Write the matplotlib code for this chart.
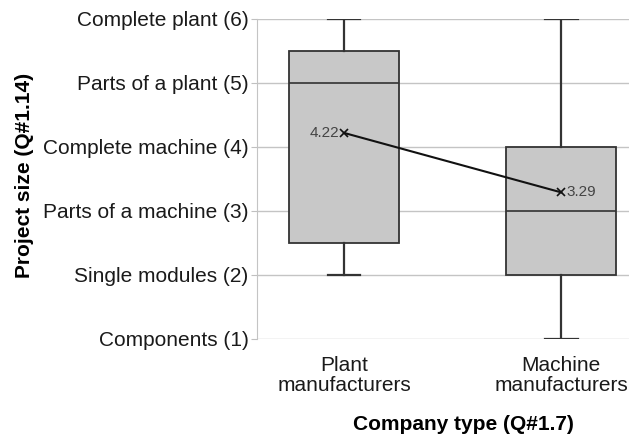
import matplotlib
matplotlib.use("Agg")
import matplotlib.pyplot as plt

plt.rcParams['font.family'] = ['Liberation Sans', 'DejaVu Sans']

groups = ["Plant\nmanufacturers", "Machine\nmanufacturers"]
whislo = [2, 1]
q1 = [2.5, 2]
med = [5, 3]
q3 = [5.5, 4]
whishi = [6, 6]
means = [4.22, 3.29]

ytick_vals = [1, 2, 3, 4, 5, 6]
ytick_labels = ["Components (1)", "Single modules (2)", "Parts of a machine (3)",
                "Complete machine (4)", "Parts of a plant (5)", "Complete plant (6)"]

stats = []
for i in range(len(groups)):
    stats.append(dict(whislo=whislo[i], q1=q1[i], med=med[i], q3=q3[i],
                      whishi=whishi[i], mean=means[i], fliers=[]))

fig = plt.figure(figsize=(6.3, 4.36), dpi=100)
ax = fig.add_axes([0.408, 0.2225, 0.59, 0.734])

edge = "#333333"
pos = [1, 2]
ax.bxp(stats, positions=pos, widths=0.505, showmeans=False, patch_artist=True,
       boxprops=dict(facecolor="#c8c8c8", edgecolor=edge, linewidth=1.3),
       medianprops=dict(color=edge, linewidth=1.2),
       whiskerprops=dict(color=edge, linewidth=1.6),
       capprops=dict(color=edge, linewidth=1.6),
       capwidths=0.15, zorder=2)

ax.plot(pos, means, color="#111111", linewidth=1.5, marker="x", markersize=6,
        markeredgewidth=1.2, zorder=3)
ax.text(pos[0] - 0.02, means[0], "%.2f" % means[0], ha="right", va="center",
        fontsize=11, color="#444444", zorder=4)
ax.text(pos[1] + 0.025, means[1], "%.2f" % means[1], ha="left", va="center",
        fontsize=11, color="#444444", zorder=4)

ax.set_xlim(0.6, 2.31)
ax.set_ylim(1, 6)
ax.set_yticks(ytick_vals)
ax.set_yticklabels(ytick_labels, fontsize=15, color="#1a1a1a")
ax.set_xticks(pos)
ax.set_xticklabels(groups, fontsize=15, color="#1a1a1a", linespacing=1.1)
ax.tick_params(axis="x", length=0, pad=12)
ax.tick_params(axis="y", length=4, color="#c0c0c0", pad=2)
ax.yaxis.grid(True, color="#c4c4c4", linewidth=1.0, zorder=0)
ax.set_axisbelow(True)
for s in ["top", "right", "bottom"]:
    ax.spines[s].set_visible(False)
ax.spines["left"].set_color("#c4c4c4")

ax.set_ylabel("Project size (Q#1.14)", fontsize=15, fontweight="bold")
ax.yaxis.set_label_coords(-0.60, 0.51)
ax.set_xlabel("Company type (Q#1.7)", fontsize=15, fontweight="bold")
ax.xaxis.set_label_coords(0.556, -0.238)

fig.savefig("out.png", dpi=100)
